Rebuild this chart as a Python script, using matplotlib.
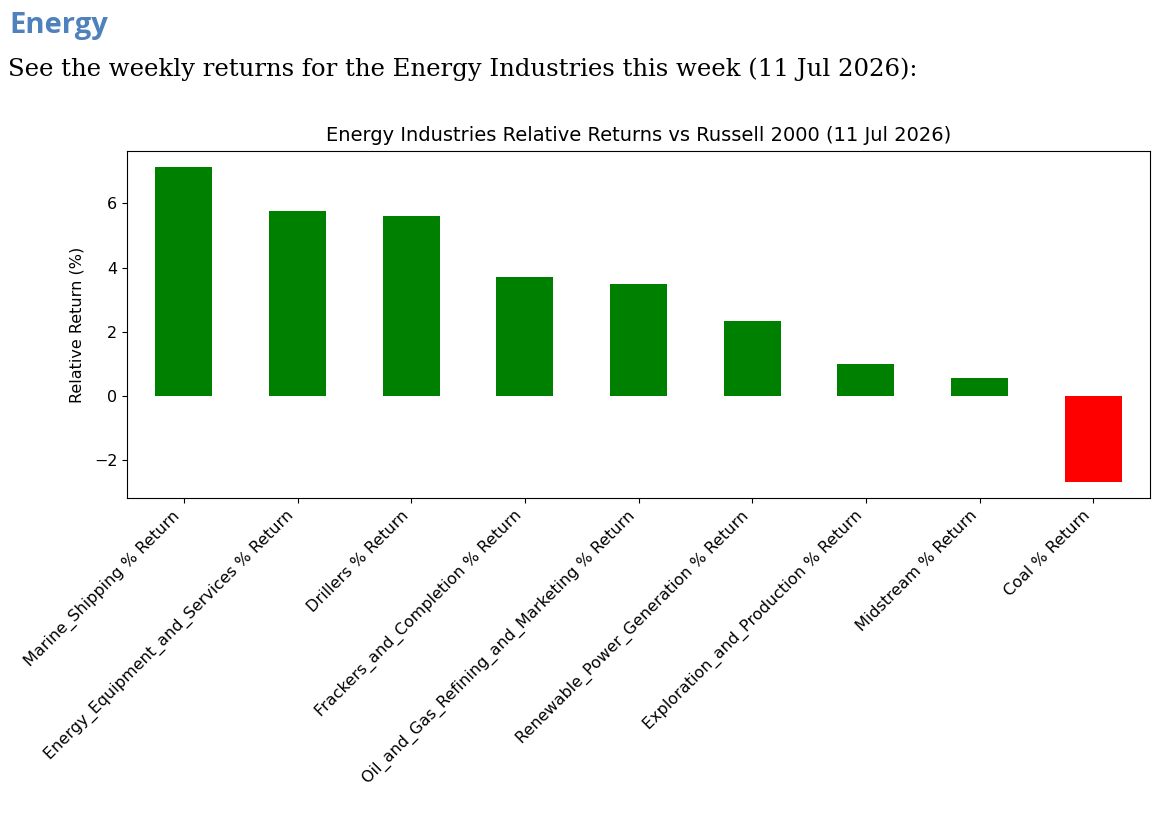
import matplotlib
matplotlib.use("Agg")
import matplotlib.pyplot as plt
import numpy as np

industries = [
    "Marine_Shipping % Return",
    "Energy_Equipment_and_Services % Return",
    "Drillers % Return",
    "Frackers_and_Completion % Return",
    "Oil_and_Gas_Refining_and_Marketing % Return",
    "Renewable_Power_Generation % Return",
    "Exploration_and_Production % Return",
    "Midstream % Return",
    "Coal % Return",
]
rel_returns = [7.14, 5.75, 5.62, 3.70, 3.48, 2.33, 0.99, 0.56, -2.68]

fig = plt.figure(figsize=(11.6, 8.14), dpi=100)

# document-style header above the chart
fig.text(9 / 1160, 1 - 33.5 / 814, "Energy", fontsize=21, fontweight="bold",
         color="#4f81bd", family="Open Sans", va="baseline", ha="left")
fig.text(8 / 1160, 1 - 76 / 814,
         "See the weekly returns for the Energy Industries this week (11 Jul 2026):",
         fontsize=17.6, family="DejaVu Serif", va="baseline", ha="left")

ax = fig.add_axes([127 / 1160, 1 - 498 / 814, (1150 - 127) / 1160, (498 - 151) / 814])

x = np.arange(len(industries))
colors = ["green" if v >= 0 else "red" for v in rel_returns]
ax.bar(x, rel_returns, width=0.5, color=colors)
ax.set_xlim(-0.5, len(industries) - 0.5)
ax.set_xticks(x)
ax.set_xticklabels(industries, rotation=45, ha="right", fontsize=11.5)
ax.tick_params(axis="y", labelsize=11.5)
ax.set_ylabel("Relative Return (%)", fontsize=11.5, labelpad=7)
ax.set_title("Energy Industries Relative Returns vs Russell 2000 (11 Jul 2026)",
             fontsize=14, pad=7.5)

fig.savefig("out.png", dpi=100)
